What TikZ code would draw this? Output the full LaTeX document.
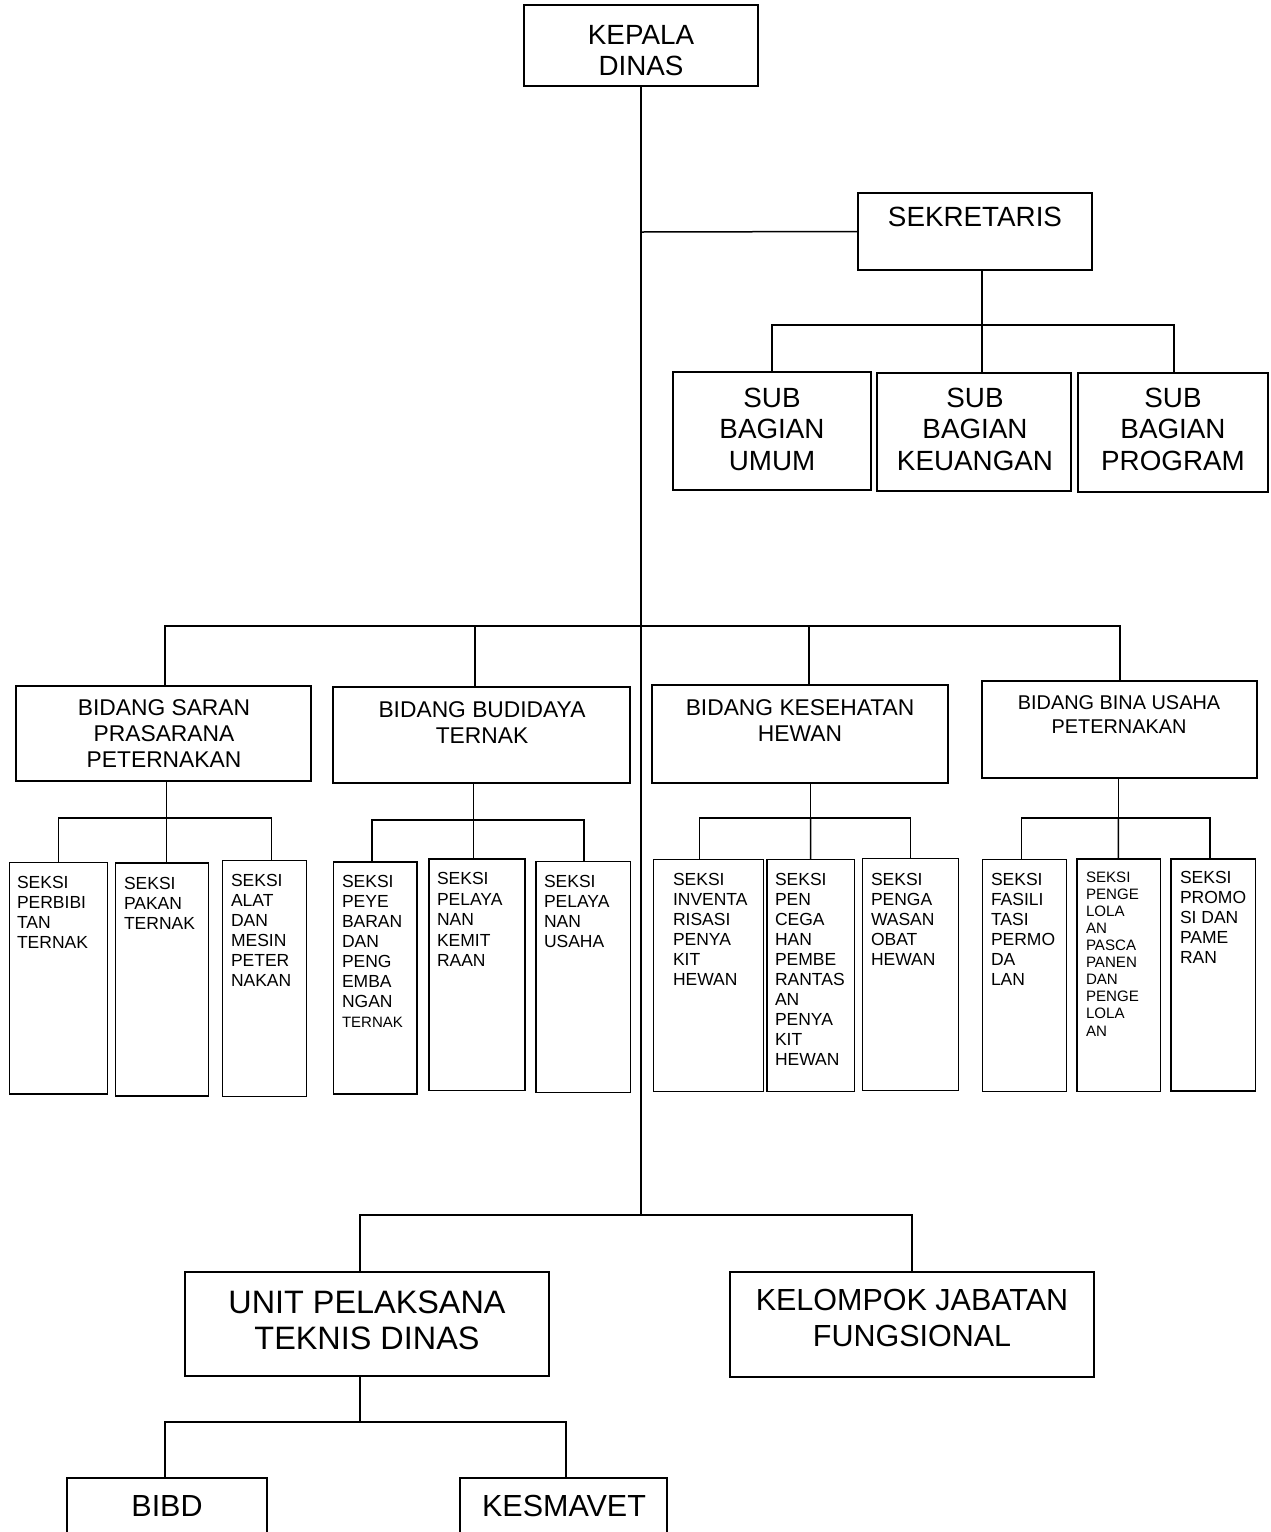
\documentclass[tikz,border=0pt]{standalone}
\usepackage{fontspec}
\setmainfont{Liberation Sans}
\newcommand\orgbox[6][]{%
  \pgfmathsetmacro\obcx{(#3+#5)/2}%
  \pgfmathsetmacro\obcy{(#4+#6)/2}%
  \pgfmathsetmacro\obw{#5-#3}%
  \pgfmathsetmacro\obh{#6-#4}%
  \node[box,minimum width=\obw pt,minimum height=\obh pt,#1] (#2) at (\obcx,\obcy) {};}
\begin{document}
\begin{tikzpicture}[x=1pt,y=-1pt,
  box/.style={draw,line width=1.5pt,inner sep=0pt,outer sep=0pt},
  ln/.style={line width=1.5pt},
  tx/.style={inner sep=0pt,outer sep=0pt,align=center,anchor=north},
  txl/.style={inner sep=0pt,outer sep=0pt,align=left,anchor=north west,font=\fontsize{17.5}{20}\selectfont},
  fbig/.style={font=\fontsize{27.8}{31.5}\selectfont},
  fbid/.style={font=\fontsize{22.8}{26}\selectfont},
  fbina/.style={font=\fontsize{19.9}{24}\selectfont},
  fupt/.style={font=\fontsize{32.4}{36}\selectfont},
  fkjf/.style={font=\fontsize{30.5}{36}\selectfont}]
\useasboundingbox (0,0) rectangle (1271,1532);
\clip (0,0) rectangle (1271,1532);
% ---------- boxes ----------
\orgbox{kepala}{524}{5}{758}{86}
\orgbox{sek}{858}{193}{1092}{270}
\orgbox{sub1}{673}{372}{871}{490}
\orgbox{sub2}{877}{373}{1071}{491}
\orgbox{sub3}{1078}{373}{1268}{492}
\orgbox{bid1}{16}{686}{311}{781}
\orgbox{bid2}{333}{687}{630}{783}
\orgbox{bid3}{652}{685}{948}{783}
\orgbox{bid4}{982}{681}{1257}{778}
\orgbox{s1}{9.3}{862.7}{107.7}{1094}
\orgbox{s2}{115.7}{863}{208.7}{1096}
\orgbox{s3}{222.7}{860.7}{306.7}{1096.7}
\orgbox{s4}{333.3}{862}{417}{1094}
\orgbox{s5}{429}{859}{525}{1090.7}
\orgbox{s6}{536}{861.7}{630.7}{1092.7}
\orgbox{s7}{653.3}{859.3}{763.3}{1091.7}
\orgbox{s8}{767}{859.3}{854.3}{1091.7}
\orgbox{s9}{862.7}{858.7}{958.3}{1090.7}
\orgbox{s10}{982.7}{859.3}{1066.7}{1091.7}
\orgbox{s11}{1077}{859}{1160.7}{1091.7}
\orgbox{s12}{1171}{859}{1255.7}{1091}
\orgbox{upt}{185}{1272}{549}{1376}
\orgbox{kjf}{730}{1272}{1094}{1377}
\orgbox{bibd}{67}{1478}{267}{1580}
\orgbox{kes}{460}{1478}{667}{1580}
% ---------- texts ----------
\node[tx,fbig] (kepala-t) at (641,25) {KEPALA\\DINAS};
\node[tx,fbig] (sek-t) at (975,207) {SEKRETARIS};
\node[tx,fbig] (sub1-t) at (772,388) {SUB\\BAGIAN\\UMUM};
\node[tx,fbig] (sub2-t) at (975,388) {SUB\\BAGIAN\\KEUANGAN};
\node[tx,fbig] (sub3-t) at (1173,388) {SUB\\BAGIAN\\PROGRAM};
\node[tx,fbid] (bid1-t) at (164,699.8) {BIDANG SARAN\\PRASARANA\\PETERNAKAN};
\node[tx,fbid] (bid2-t) at (482,701.8) {BIDANG BUDIDAYA\\TERNAK};
\node[tx,fbid] (bid3-t) at (800,699.8) {BIDANG KESEHATAN\\HEWAN};
\node[tx,fbina] (bid4-t) at (1119,695.9) {BIDANG BINA USAHA\\PETERNAKAN};
\node[txl] (s1-t) at (17,876.6) {SEKSI\\PERBIBI\\TAN\\TERNAK};
\node[txl] (s2-t) at (124,877.6) {SEKSI\\PAKAN\\TERNAK};
\node[txl] (s3-t) at (231,874.6) {SEKSI\\ALAT\\DAN\\MESIN\\PETER\\NAKAN};
\node[txl] (s4-t) at (342,875.6) {SEKSI\\PEYE\\BARAN\\DAN\\PENG\\EMBA\\NGAN\\{\fontsize{15}{20}\selectfont TERNAK}};
\node[txl,font=\fontsize{17.5}{20.5}\selectfont] (s5-t) at (437,872.6) {SEKSI\\PELAYA\\NAN\\KEMIT\\RAAN};
\node[txl] (s6-t) at (544,875.6) {SEKSI\\PELAYA\\NAN\\USAHA};
\node[txl] (s7-t) at (673,873.6) {SEKSI\\INVENTA\\RISASI\\PENYA\\KIT\\HEWAN};
\node[txl] (s8-t) at (775,873.6) {SEKSI\\PEN\\CEGA\\HAN\\PEMBE\\RANTAS\\AN\\PENYA\\KIT\\HEWAN};
\node[txl] (s9-t) at (871,873.6) {SEKSI\\PENGA\\WASAN\\OBAT\\HEWAN};
\node[txl] (s10-t) at (991,873.6) {SEKSI\\FASILI\\TASI\\PERMO\\DA\\LAN};
\node[txl,font=\fontsize{15.1}{17.1}\selectfont] (s11-t) at (1086,871.6) {SEKSI\\PENGE\\LOLA\\AN\\PASCA\\PANEN\\DAN\\PENGE\\LOLA\\AN};
\node[txl] (s12-t) at (1180,871.6) {SEKSI\\PROMO\\SI DAN\\PAME\\RAN};
\node[tx,fupt] (upt-t) at (367,1290.4) {UNIT PELAKSANA\\TEKNIS DINAS};
\node[tx,fkjf] (kjf-t) at (912,1289.1) {KELOMPOK JABATAN\\FUNGSIONAL};
\node[tx,fkjf] (bibd-t) at (167,1495.1) {BIBD};
\node[tx,fkjf] (kes-t) at (564,1495.1) {KESMAVET};
% ---------- junction coordinates ----------
\coordinate (mainend) at (641,1215);
\coordinate (jsek) at (641,232);
\coordinate (subbus) at (982,325);
\coordinate (bidbus) at (641,626);
\coordinate (g1) at (166.7,818);
\coordinate (g2) at (473.3,820);
\coordinate (g3) at (810.7,818);
\coordinate (g4) at (1118.3,818);
\coordinate (lowbus) at (641,1215);
\coordinate (uptbus) at (360,1422);
% ---------- connectors ----------
\draw[ln] (kepala.south) -- (mainend);
\draw[ln] (jsek) -- (sek.west);
% sekretaris group
\draw[ln] ([xshift=7pt]sek.south) -- (subbus);
\draw[ln] (sub1.north) |- (subbus) -| ([xshift=1pt]sub3.north);
\draw[ln] (subbus) -- ([xshift=8pt]sub2.north);
% bidang bus
\draw[ln] ([xshift=1.5pt]bid1.north) |- (bidbus) -| ([xshift=0.5pt]bid4.north);
\draw[ln] ([xshift=-6.5pt]bid2.north) -- ++(0,-61);
\draw[ln] ([xshift=9pt]bid3.north) -- ++(0,-59);
% seksi groups
\draw[ln] ([xshift=3.2pt]bid1.south) -- (g1);
\draw[ln] ([xshift=0.2pt]s1.north) |- (g1) -| ([xshift=7pt]s3.north);
\draw[ln] (g1) -- ([xshift=4.5pt]s2.north);
\draw[ln] ([xshift=-8.2pt]bid2.south) -- (g2);
\draw[ln] ([xshift=-3.3pt]s4.north) |- (g2) -| ([xshift=0.7pt]s6.north);
\draw[ln] (g2) -- ([xshift=-3.7pt]s5.north);
\draw[ln] ([xshift=10.7pt]bid3.south) -- (g3);
\draw[ln] ([xshift=-9pt]s7.north) |- (g3) -| ([xshift=0.2pt]s9.north);
\draw[ln] (g3) -- (s8.north);
\draw[ln] ([xshift=-1.2pt]bid4.south) -- (g4);
\draw[ln] ([xshift=-3pt]s10.north) |- (g4) -| ([xshift=-3.3pt]s12.north);
\draw[ln] (g4) -- ([xshift=-0.6pt]s11.north);
% lower group
\draw[ln] ([xshift=-7pt]upt.north) |- (lowbus) -| (kjf.north);
\draw[ln] ([xshift=-7pt]upt.south) -- (uptbus);
\draw[ln] ([xshift=-2pt]bibd.north) |- (uptbus) -| ([xshift=2.5pt]kes.north);
\end{tikzpicture}
\end{document}
